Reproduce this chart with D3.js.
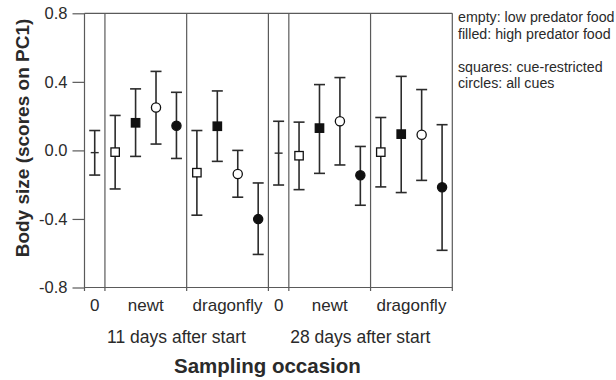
<!DOCTYPE html>
<html>
<head>
<meta charset="utf-8">
<script src="https://cdn.jsdelivr.net/npm/d3@7"></script>
<style>
  html, body { margin: 0; padding: 0; background: #fff; }
  svg { display: block; }
  text { font-family: "Liberation Sans", Arial, sans-serif; fill: #2a2a2a; }
</style>
</head>
<body>
<svg id="chart" width="616" height="380"></svg>
<script>
// ---- data ----
const dayLabels = ["11 days after start", "28 days after start"];
const treatmentLabels = ["0", "newt", "dragonfly", "0", "newt", "dragonfly"];
// group spans in point index units [start, end]
const treatmentStart = [0, 1, 5, 9, 10, 14];
const treatmentEnd   = [0, 4, 8, 9, 13, 17];
const dayStart = [0, 9];
const dayEnd   = [8, 17];
// marker: control = bar only, food: empty/filled, cue: square/circle
const markerType = [
  "control", "emptySquare", "filledSquare", "emptyCircle", "filledCircle",
  "emptySquare", "filledSquare", "emptyCircle", "filledCircle",
  "control", "emptySquare", "filledSquare", "emptyCircle", "filledCircle",
  "emptySquare", "filledSquare", "emptyCircle", "filledCircle"
];
const means = [-0.013, -0.010, 0.161, 0.250, 0.144, -0.130, 0.141, -0.138, -0.401,
               -0.016, -0.031, 0.130, 0.170, -0.145, -0.010, 0.095, 0.091, -0.215];
const upper = [0.116, 0.204, 0.359, 0.461, 0.339, 0.116, 0.347, 0.000, -0.190,
               0.170, 0.165, 0.384, 0.425, 0.023, 0.192, 0.432, 0.355, 0.150];
const lower = [-0.144, -0.225, -0.035, 0.037, -0.047, -0.378, -0.064, -0.273, -0.607,
               -0.202, -0.229, -0.134, -0.085, -0.320, -0.213, -0.246, -0.175, -0.583];
const yTicks = [0.8, 0.4, 0.0, -0.4, -0.8];
const legendLines = ["empty: low predator food", "filled: high predator food", "",
                     "squares: cue-restricted", "circles: all cues"];
const yTitle = "Body size (scores on PC1)";
const xTitle = "Sampling occasion";

// ---- layout ----
const svg = d3.select("#chart");
const pLeft = 84.5, pRight = 452.3, pTop = 13.3, pBottom = 287.5;
const x = d3.scaleLinear().domain([-0.5, means.length - 0.5]).range([pLeft, pRight]);
const y = d3.scaleLinear().domain([-0.8, 0.8]).range([pBottom, pTop]);
const frameColor = "#5a5a5a";
const barColor = "#2b2b2b";

// frame
const g = svg.append("g");
g.append("line").attr("x1", pLeft).attr("x2", pRight).attr("y1", pTop).attr("y2", pTop)
  .attr("stroke", frameColor).attr("stroke-width", 1.2);
g.append("line").attr("x1", pLeft).attr("x2", pRight).attr("y1", pBottom).attr("y2", pBottom)
  .attr("stroke", frameColor).attr("stroke-width", 1.2);

// separators (borders included), extending slightly below the axis
const seps = [-0.5].concat(treatmentEnd.map(d => d + 0.5));
g.selectAll("line.sep").data(seps).enter().append("line")
  .attr("class", "sep")
  .attr("x1", d => x(d)).attr("x2", d => x(d))
  .attr("y1", pTop).attr("y2", pBottom + 3.5)
  .attr("stroke", frameColor).attr("stroke-width", 1.2);

// y axis ticks and labels
const yAxis = d3.axisLeft(y).tickValues(yTicks).tickSize(12).tickPadding(5)
  .tickFormat(d => d3.format(".1f")(d).replace("−", "-"));
const ya = svg.append("g").attr("transform", `translate(${pLeft},0)`).call(yAxis);
ya.select(".domain").remove();
ya.selectAll(".tick line").attr("stroke", frameColor).attr("stroke-width", 1.2);
ya.selectAll(".tick text").style("font-size", "16.5px")
  .attr("font-family", "Liberation Sans, Arial, sans-serif").attr("fill", "#2a2a2a");

// error bars
const capW = 5.5;
const pts = svg.append("g");
means.forEach((m, i) => {
  const cx = x(i);
  pts.append("line").attr("x1", cx).attr("x2", cx).attr("y1", y(upper[i])).attr("y2", y(lower[i]))
    .attr("stroke", barColor).attr("stroke-width", 1.6);
  [upper[i], lower[i]].forEach(v => {
    pts.append("line").attr("x1", cx - capW).attr("x2", cx + capW).attr("y1", y(v)).attr("y2", y(v))
      .attr("stroke", barColor).attr("stroke-width", 1.6);
  });
  const t = markerType[i];
  const cy = y(m);
  if (t === "control") {
    pts.append("line").attr("x1", cx - 4).attr("x2", cx + 4).attr("y1", cy).attr("y2", cy)
      .attr("stroke", barColor).attr("stroke-width", 1.4);
  } else if (t.endsWith("Square")) {
    pts.append("rect").attr("x", cx - 4.2).attr("y", cy - 4.2).attr("width", 8.4).attr("height", 8.4)
      .attr("fill", t.startsWith("filled") ? "#111" : "#fff")
      .attr("stroke", "#111").attr("stroke-width", 1.3);
  } else {
    pts.append("circle").attr("cx", cx).attr("cy", cy).attr("r", 4.6)
      .attr("fill", t.startsWith("filled") ? "#111" : "#fff")
      .attr("stroke", "#111").attr("stroke-width", 1.3);
  }
});

// x category labels
svg.selectAll("text.cat").data(treatmentLabels).enter().append("text")
  .attr("class", "cat")
  .attr("x", (d, i) => x((treatmentStart[i] + treatmentEnd[i]) / 2))
  .attr("y", 311)
  .attr("text-anchor", "middle")
  .style("font-size", "17px")
  .text(d => d);

// day labels
svg.selectAll("text.day").data(dayLabels).enter().append("text")
  .attr("class", "day")
  .attr("x", (d, i) => x((dayStart[i] + dayEnd[i]) / 2))
  .attr("y", 343)
  .attr("text-anchor", "middle")
  .style("font-size", "17.5px")
  .text(d => d);

// axis titles
svg.append("text")
  .attr("x", x((dayStart[0] + dayEnd[1]) / 2) - 1)
  .attr("y", 373)
  .attr("text-anchor", "middle")
  .style("font-size", "20.5px").style("font-weight", "bold")
  .text(xTitle);

svg.append("text")
  .attr("transform", `translate(29,138) rotate(-90)`)
  .attr("text-anchor", "middle")
  .style("font-size", "19px").style("font-weight", "bold")
  .text(yTitle);

// legend (shrink to fit the right edge if needed)
const legX = 458;
const leg = svg.selectAll("text.leg").data(legendLines).enter().append("text")
  .attr("class", "leg")
  .attr("x", legX)
  .attr("y", (d, i) => 22 + i * 16.6)
  .style("font-size", "14.6px")
  .text(d => d);
let maxW = 0;
leg.each(function() { maxW = Math.max(maxW, this.getComputedTextLength()); });
const avail = 616 - legX - 1.5;
if (maxW > avail) leg.style("font-size", (14.6 * avail / maxW).toFixed(2) + "px");
</script>
</body>
</html>
